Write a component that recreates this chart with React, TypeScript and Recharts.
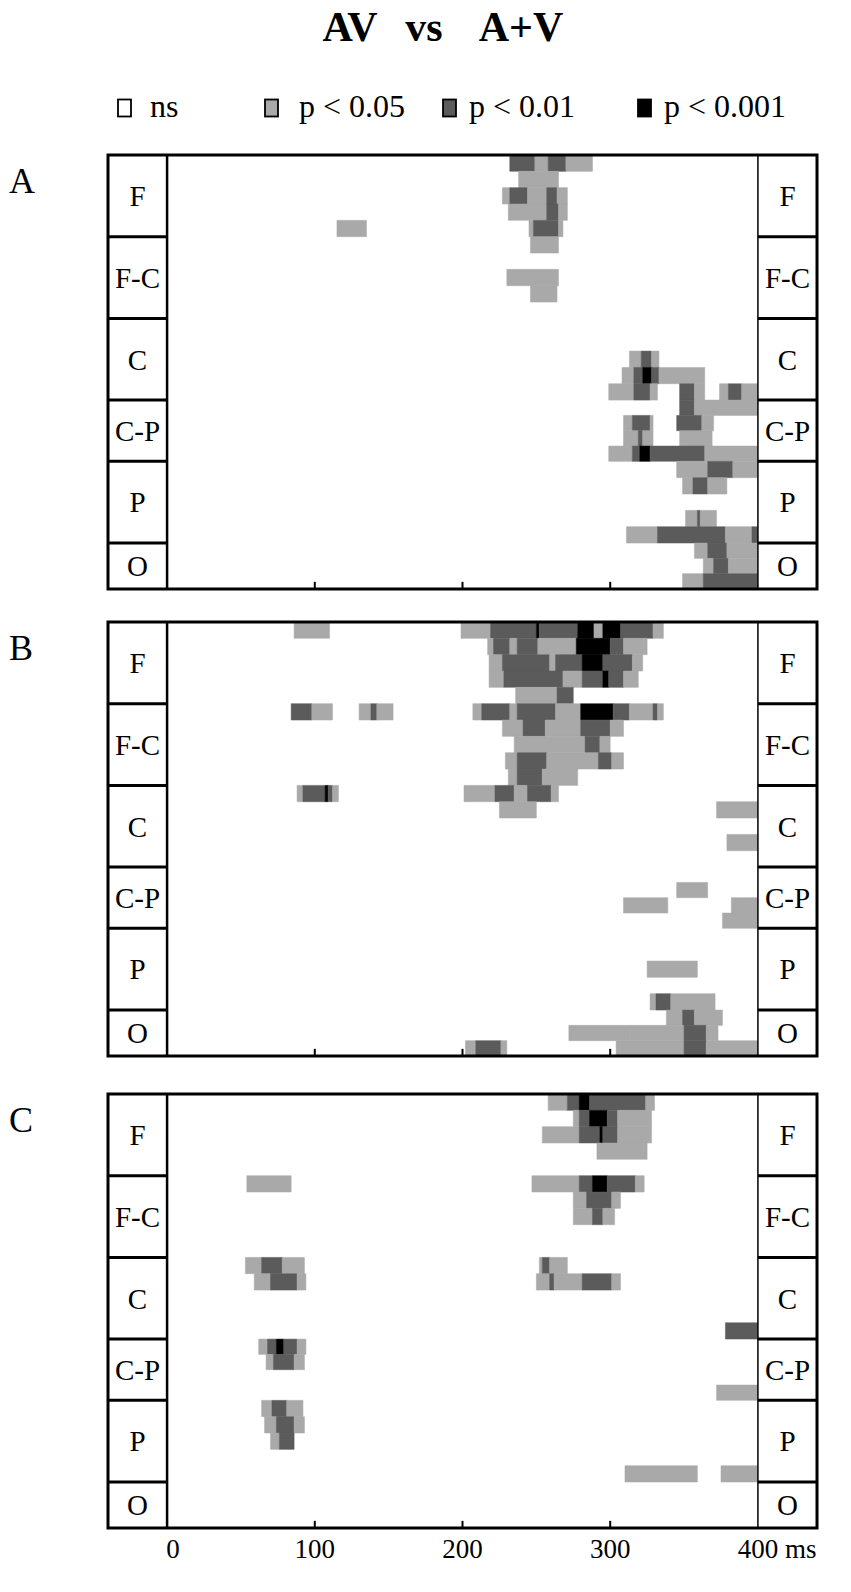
import React from 'react';
import { ComposedChart, XAxis, YAxis, ReferenceArea, ReferenceLine } from 'recharts';

// ---------- data ----------
const groupLabels = ['F', 'F-C', 'C', 'C-P', 'P', 'O'];
const groupRowCounts = [5, 5, 5, 4, 5, 3];
const levelColors = ['#ffffff', '#a9a9a9', '#5b5b5b', '#000000'];
const legendLabels = ['ns', 'p < 0.05', 'p < 0.01', 'p < 0.001'];
const panelLetters = ['A', 'B', 'C'];
const titleWords = ['AV', 'vs', 'A+V'];
const xTicks = [0, 100, 200, 300, 400];
const innerTicks = [100, 200, 300];

// [row, startMs, endMs, level]  level: 1 p<0.05, 2 p<0.01, 3 p<0.001
type Seg = [number, number, number, number];

const panelA: Seg[] = [
  [0, 232, 249, 2], [0, 249, 258, 1], [0, 258, 270, 2], [0, 270, 288, 1],
  [1, 238, 265, 1],
  [2, 227, 232, 1], [2, 232, 244, 2], [2, 244, 257, 1], [2, 257, 264, 2], [2, 264, 271, 1],
  [3, 231, 257, 1], [3, 257, 265, 2], [3, 265, 271, 1],
  [4, 115, 135, 1], [4, 245, 248, 1], [4, 248, 265, 2], [4, 265, 268, 1],
  [5, 246, 265, 1],
  [7, 230, 265, 1],
  [8, 246, 264, 1],
  [12, 313, 321, 1], [12, 321, 328, 2], [12, 328, 333, 1],
  [13, 308, 316, 1], [13, 316, 322, 2], [13, 322, 328, 3], [13, 328, 333, 2], [13, 333, 364, 1],
  [14, 299, 316, 1], [14, 316, 327, 2], [14, 327, 332, 1], [14, 347, 357, 2], [14, 357, 364, 1],
  [14, 374, 380, 1], [14, 380, 389, 2], [14, 389, 400, 1],
  [15, 347, 357, 2], [15, 357, 400, 1],
  [16, 309, 315, 1], [16, 315, 327, 2], [16, 327, 329, 1], [16, 345, 362, 2], [16, 362, 370, 1],
  [17, 309, 319, 1], [17, 319, 322, 2], [17, 322, 329, 1], [17, 347, 369, 1],
  [18, 299, 315, 1], [18, 315, 320, 2], [18, 320, 327, 3], [18, 327, 364, 2], [18, 364, 400, 1],
  [19, 345, 366, 1], [19, 366, 383, 2], [19, 383, 400, 1],
  [20, 349, 356, 1], [20, 356, 366, 2], [20, 366, 379, 1],
  [22, 351, 359, 1], [22, 359, 361, 2], [22, 361, 372, 1],
  [23, 311, 332, 1], [23, 332, 378, 2], [23, 378, 396, 1], [23, 396, 400, 2],
  [24, 357, 366, 1], [24, 366, 379, 2], [24, 379, 400, 1],
  [25, 363, 370, 1], [25, 370, 380, 2], [25, 380, 400, 1],
  [26, 349, 363, 1], [26, 363, 400, 2],
];

const panelB: Seg[] = [
  [0, 86, 110, 1], [0, 199, 219, 1], [0, 219, 250, 2], [0, 250, 252, 3], [0, 252, 278, 2],
  [0, 278, 289, 3], [0, 289, 295, 1], [0, 295, 307, 3], [0, 307, 329, 2], [0, 329, 336, 1],
  [1, 217, 221, 1], [1, 221, 232, 2], [1, 232, 237, 1], [1, 237, 251, 2], [1, 251, 277, 1],
  [1, 277, 300, 3], [1, 300, 309, 2], [1, 309, 325, 1],
  [2, 218, 227, 1], [2, 227, 259, 2], [2, 259, 263, 1], [2, 263, 281, 2], [2, 281, 295, 3],
  [2, 295, 315, 2], [2, 315, 322, 1],
  [3, 218, 228, 1], [3, 228, 268, 2], [3, 268, 281, 1], [3, 281, 295, 2], [3, 295, 299, 3],
  [3, 299, 309, 2], [3, 309, 319, 1],
  [4, 236, 264, 1], [4, 264, 275, 2],
  [5, 84, 98, 2], [5, 98, 112, 1], [5, 130, 138, 1], [5, 138, 142, 2], [5, 142, 153, 1],
  [5, 207, 213, 1], [5, 213, 232, 2], [5, 232, 237, 1], [5, 237, 263, 2], [5, 263, 280, 1], [5, 280, 302, 3],
  [5, 302, 313, 2], [5, 313, 329, 1], [5, 329, 332, 2], [5, 332, 336, 1],
  [6, 227, 241, 1], [6, 241, 256, 2], [6, 256, 280, 1], [6, 280, 300, 2], [6, 300, 309, 1],
  [7, 235, 283, 1], [7, 283, 293, 2], [7, 293, 300, 1],
  [8, 229, 237, 1], [8, 237, 257, 2], [8, 257, 292, 1], [8, 292, 301, 2], [8, 301, 309, 1],
  [9, 231, 237, 1], [9, 237, 254, 2], [9, 254, 278, 1],
  [10, 88, 92, 1], [10, 92, 107, 2], [10, 107, 109, 3], [10, 109, 112, 2], [10, 112, 116, 1],
  [10, 201, 222, 1], [10, 222, 235, 2], [10, 235, 244, 1], [10, 244, 260, 2], [10, 260, 265, 1],
  [11, 225, 250, 1], [11, 372, 400, 1],
  [13, 379, 400, 1],
  [16, 345, 366, 1],
  [17, 309, 339, 1], [17, 382, 400, 1],
  [18, 376, 400, 1],
  [21, 325, 359, 1],
  [23, 327, 331, 1], [23, 331, 341, 2], [23, 341, 371, 1],
  [24, 338, 349, 1], [24, 349, 357, 2], [24, 357, 376, 1],
  [25, 272, 314, 1], [25, 314, 350, 1], [25, 350, 365, 2], [25, 365, 373, 1],
  [26, 202, 209, 1], [26, 209, 226, 2], [26, 226, 230, 1], [26, 304, 350, 1], [26, 350, 365, 2],
  [26, 365, 400, 1],
];

const panelC: Seg[] = [
  [0, 258, 271, 1], [0, 271, 279, 2], [0, 279, 286, 3], [0, 286, 324, 2], [0, 324, 330, 1],
  [1, 275, 279, 1], [1, 279, 286, 2], [1, 286, 298, 3], [1, 298, 305, 2], [1, 305, 328, 1],
  [2, 254, 279, 1], [2, 279, 293, 2], [2, 293, 295, 3], [2, 295, 305, 2], [2, 305, 328, 1],
  [3, 291, 325, 1],
  [5, 54, 84, 1], [5, 247, 279, 1], [5, 279, 288, 2], [5, 288, 298, 3], [5, 298, 317, 2], [5, 317, 323, 1],
  [6, 275, 284, 1], [6, 284, 301, 2], [6, 301, 307, 1],
  [7, 275, 288, 1], [7, 288, 295, 2], [7, 295, 303, 1],
  [10, 53, 64, 1], [10, 64, 78, 2], [10, 78, 93, 1], [10, 252, 254, 1], [10, 254, 259, 2], [10, 259, 271, 1],
  [11, 59, 70, 1], [11, 70, 88, 2], [11, 88, 94, 1], [11, 250, 259, 1], [11, 259, 262, 2],
  [11, 262, 281, 1], [11, 281, 301, 2], [11, 301, 307, 1],
  [14, 378, 400, 2],
  [15, 62, 68, 1], [15, 68, 74, 2], [15, 74, 79, 3], [15, 79, 88, 2], [15, 88, 94, 1],
  [16, 67, 72, 1], [16, 72, 86, 2], [16, 86, 93, 1],
  [18, 372, 400, 1],
  [19, 64, 71, 1], [19, 71, 81, 2], [19, 81, 92, 1],
  [20, 66, 74, 1], [20, 74, 86, 2], [20, 86, 93, 1],
  [21, 70, 76, 1], [21, 76, 86, 2],
  [23, 310, 359, 1], [23, 375, 400, 1],
];

const panels = [panelA, panelB, panelC];

// ---------- layout ----------
const FONT = '"Liberation Serif", "Times New Roman", serif';
const W = 851;
const PANEL_H = 434;
const panelTops = [155, 622, 1094];
const M_TOP = 4;
// relative row heights per group (C-P and O rows are drawn slightly shorter)
const groupRowUnit = [16, 16, 16, 15, 16, 15];
const rowEdges: number[] = (() => {
  const e = [0];
  groupRowCounts.forEach((n, g) => {
    for (let k = 0; k < n; k++) e.push(e[e.length - 1] + groupRowUnit[g]);
  });
  return e;
})();
const groupEdges: number[] = (() => {
  const e = [0];
  let r = 0;
  groupRowCounts.forEach((n) => {
    r += n;
    e.push(rowEdges[r]);
  });
  return e;
})();
const Y_MAX = rowEdges[rowEdges.length - 1];

const XTick = (props: any) => {
  const { x, y, payload } = props;
  const v = payload.value;
  return (
    <g>
      <text x={x + (v === 0 ? 6 : 0)} y={y + 22} textAnchor="middle" fontSize={27} fontFamily={FONT} fill="#000">
        {String(v)}
      </text>
      {v === 400 ? (
        <text x={x + 27} y={y + 22} textAnchor="start" fontSize={27} fontFamily={FONT} fill="#000">
          ms
        </text>
      ) : null}
    </g>
  );
};

function Panel({ segs, top, showAxis, letter }: { segs: Seg[]; top: number; showAxis: boolean; letter: string }) {
  const axisH = showAxis ? 40 : 0;
  const mb = 4;
  const h = PANEL_H + M_TOP + mb + axisH;
  return (
    <div style={{ position: 'absolute', left: 0, top: top - M_TOP, width: W, height: h }}>
      <svg style={{ position: 'absolute', left: 0, top: 0 }} width={60} height={60}>
        <text x={9} y={M_TOP + 38} fontSize={36} fontFamily={FONT} fill="#000">
          {letter}
        </text>
      </svg>
      <ComposedChart width={W} height={h} margin={{ top: M_TOP, right: 34, bottom: mb, left: 108 }} data={[{ x: 0, y: 0 }]}>
        <XAxis
          type="number"
          dataKey="x"
          domain={[-40, 440]}
          ticks={xTicks}
          hide={!showAxis}
          height={40}
          axisLine={false}
          tickLine={false}
          tick={<XTick />}
          interval={0}
          allowDataOverflow
        />
        <YAxis type="number" dataKey="y" domain={[0, Y_MAX]} reversed hide allowDataOverflow />
        {segs.map((s, i) => (
          <ReferenceArea
            key={'s' + i}
            x1={s[1]}
            x2={s[2]}
            y1={rowEdges[s[0]]}
            y2={rowEdges[s[0] + 1]}
            fill={levelColors[s[3]]}
            fillOpacity={1}
            stroke={levelColors[s[3]]}
            strokeWidth={0.5}
          />
        ))}
        {groupLabels.map((g, i) => (
          <ReferenceArea
            key={'l' + i}
            x1={-40}
            x2={0}
            y1={groupEdges[i]}
            y2={groupEdges[i + 1]}
            fill="#fff"
            fillOpacity={1}
            strokeWidth={0}
            label={{ value: g, position: 'center', fill: '#000', fontSize: 29, fontFamily: FONT }}
          />
        ))}
        {groupLabels.map((g, i) => (
          <ReferenceArea
            key={'r' + i}
            x1={400}
            x2={440}
            y1={groupEdges[i]}
            y2={groupEdges[i + 1]}
            fill="#fff"
            fillOpacity={1}
            strokeWidth={0}
            label={{ value: g, position: 'center', fill: '#000', fontSize: 29, fontFamily: FONT }}
          />
        ))}
        {groupEdges.slice(1, -1).map((b, i) => (
          <ReferenceLine key={'gl' + i} segment={[{ x: -40, y: b }, { x: 0, y: b }]} stroke="#000" strokeWidth={3} />
        ))}
        {groupEdges.slice(1, -1).map((b, i) => (
          <ReferenceLine key={'gr' + i} segment={[{ x: 400, y: b }, { x: 440, y: b }]} stroke="#000" strokeWidth={3} />
        ))}
        {innerTicks.map((t) => (
          <ReferenceLine key={'t' + t} segment={[{ x: t, y: Y_MAX }, { x: t, y: Y_MAX - 7 }]} stroke="#000" strokeWidth={2} />
        ))}
        <ReferenceLine x={0} stroke="#000" strokeWidth={2.5} />
        <ReferenceLine x={400} stroke="#000" strokeWidth={1.5} />
        <ReferenceArea x1={-40} x2={440} y1={0} y2={Y_MAX} fill="none" fillOpacity={0} stroke="#000" strokeWidth={3} />
      </ComposedChart>
    </div>
  );
}

const titleX = [350, 424, 521];
const legendBoxX = [118, 265, 443, 638];
const legendTextX = [150, 299, 469, 664];

export default function App() {
  return (
    <div style={{ position: 'absolute', left: 0, top: 0, width: W, height: 1592, background: '#fff' }}>
      <svg style={{ position: 'absolute', left: 0, top: 0 }} width={W} height={140}>
        {titleWords.map((t, i) => (
          <text key={t} x={titleX[i]} y={41} textAnchor="middle" fontSize={42} fontWeight="bold" fontFamily={FONT} fill="#000">
            {t}
          </text>
        ))}
        {legendLabels.map((l, i) => (
          <g key={l}>
            <rect x={legendBoxX[i]} y={99.5} width={13} height={17} fill={levelColors[i]} stroke="#000" strokeWidth={1.8} />
            <text x={legendTextX[i]} y={117} fontSize={32} fontFamily={FONT} fill="#000">
              {l}
            </text>
          </g>
        ))}
      </svg>
      {panels.map((p, i) => (
        <Panel key={i} segs={p} top={panelTops[i]} showAxis={i === 2} letter={panelLetters[i]} />
      ))}
    </div>
  );
}
